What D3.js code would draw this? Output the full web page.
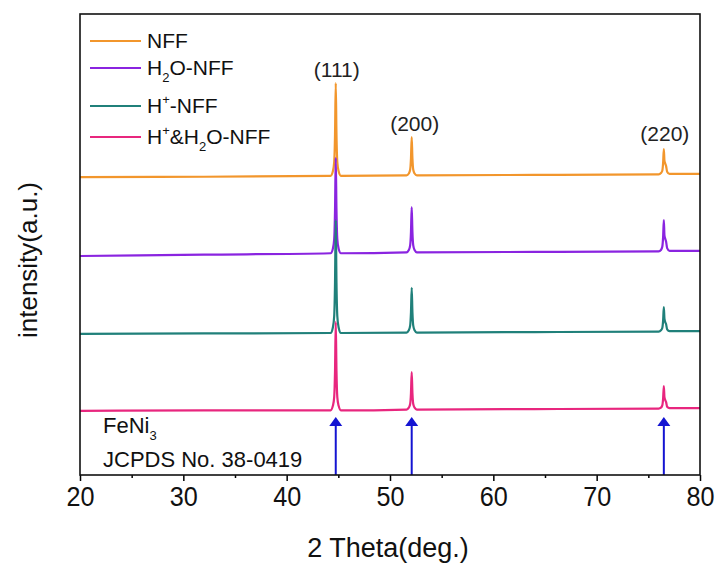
<!DOCTYPE html>
<html>
<head>
<meta charset="utf-8">
<script src="https://cdn.jsdelivr.net/npm/d3@7/dist/d3.min.js"></script>
<style>
  html, body { margin: 0; padding: 0; background: #fff; }
  svg { display: block; font-family: "Liberation Sans", Arial, sans-serif; }
</style>
</head>
<body>
<svg id="chart" width="719" height="566"></svg>
<script>
// 2θ axis ticks
const majorTicks = [20, 30, 40, 50, 60, 70, 80];
const minorTicks = [25, 35, 45, 55, 65, 75];

// Sample names, colours and vertical stacking offsets
const seriesNames = ["NFF", "H2O-NFF", "H+-NFF", "H+&H2O-NFF"];
const seriesColors = ["#f2962c", "#8a24e0", "#20807a", "#e8267e"];
const seriesOffsets = [60, 43, 26, 9];

// Diffraction patterns: [2θ (deg), intensity (a.u.)]
const nffPattern = [
  [20, 4.6], [32, 4.7], [44.25, 4.9], [44.47, 5.9], [44.6, 7.9], [44.68, 13.9], [44.75, 25.0],
  [44.82, 13.9], [44.9, 7.9], [45.03, 5.9], [45.25, 4.9], [51.6, 5.0], [51.82, 5.4], [51.95, 6.2],
  [52.03, 8.7], [52.1, 13.3], [52.17, 8.7], [52.25, 6.2], [52.38, 5.4], [52.6, 5.0], [64, 5.1],
  [76.0, 5.2], [76.22, 5.5], [76.35, 6.0], [76.43, 7.7], [76.5, 10.7], [76.56, 8.2], [76.63, 7.6],
  [76.72, 7.0], [76.82, 5.8], [77.05, 5.3], [80, 5.3]
];
const h2oPattern = [
  [20, 4.5], [32, 4.8], [44.25, 5.1], [44.47, 6.1], [44.6, 8.2], [44.68, 14.4], [44.75, 25.8],
  [44.82, 14.4], [44.9, 8.2], [45.03, 6.1], [45.25, 5.1], [51.6, 5.3], [51.82, 5.8], [51.95, 6.8],
  [52.03, 9.7], [52.1, 15.1], [52.17, 9.7], [52.25, 6.8], [52.38, 5.8], [52.6, 5.3], [64, 5.4],
  [76.0, 5.5], [76.22, 5.8], [76.35, 6.5], [76.43, 8.6], [76.5, 12.3], [76.56, 9.0], [76.63, 8.3],
  [76.72, 7.6], [76.82, 6.2], [77.05, 5.6], [80, 5.6]
];
const hPattern = [
  [20, 4.6], [32, 4.7], [44.25, 4.8], [44.47, 6.0], [44.6, 8.5], [44.68, 15.8], [44.75, 29.3],
  [44.82, 15.8], [44.9, 8.5], [45.03, 6.0], [45.25, 4.8], [51.6, 4.9], [51.82, 5.4], [51.95, 6.4],
  [52.03, 9.3], [52.1, 14.6], [52.17, 9.3], [52.25, 6.4], [52.38, 5.4], [52.6, 4.9], [64, 5.0],
  [76.0, 5.1], [76.22, 5.4], [76.35, 5.9], [76.43, 7.5], [76.5, 10.4], [76.56, 7.9], [76.63, 7.2],
  [76.72, 6.7], [76.82, 5.6], [77.05, 5.2], [80, 5.2]
];
const hH2oPattern = [
  [20, 4.9], [32, 5.0], [44.25, 5.0], [44.47, 6.0], [44.6, 7.9], [44.68, 13.6], [44.75, 24.2],
  [44.82, 13.6], [44.9, 7.9], [45.03, 6.0], [45.25, 5.0], [51.6, 5.2], [51.82, 5.6], [51.95, 6.4],
  [52.03, 8.8], [52.1, 13.3], [52.17, 8.8], [52.25, 6.4], [52.38, 5.6], [52.6, 5.2], [64, 5.3],
  [76.0, 5.4], [76.22, 5.6], [76.35, 6.1], [76.43, 7.6], [76.5, 10.3], [76.56, 7.9], [76.63, 7.3],
  [76.72, 6.8], [76.82, 5.8], [77.05, 5.5], [80, 5.5]
];
const patterns = [nffPattern, h2oPattern, hPattern, hH2oPattern];

// Miller indices and their peak positions
const hklLabels = ["(111)", "(200)", "(220)"];
const hklPeaks = [44.75, 52.1, 76.5];
const hklPeakTops = [25.0, 13.3, 10.7];

// FeNi3 reference (JCPDS No. 38-0419) line positions
const refPeaks = [44.75, 52.1, 76.5];
const refArrowTop = 12.6;

const svg = d3.select("#chart");
const margin = { left: 80, right: 19, top: 14, bottom: 91 };
const W = 719, H = 566;
const x0 = margin.left, x1 = W - margin.right, y0 = H - margin.bottom, y1 = margin.top;

const x = d3.scaleLinear().domain([20, 80]).range([x0, x1]);
const y = d3.scaleLinear().domain([0, 100]).range([y0, y1]);

// Patterns, drawn from the top trace down so lower ones overlay
const line = d3.line()
  .x(d => x(d[0]))
  .curve(d3.curveMonotoneX);

patterns.forEach((p, i) => {
  svg.append("path")
    .datum(p)
    .attr("fill", "none")
    .attr("stroke", seriesColors[i])
    .attr("stroke-width", 2.2)
    .attr("stroke-linejoin", "round")
    .attr("d", line.y(d => y(d[1] + seriesOffsets[i])));
});

// Reference arrows
const arrowG = svg.append("g");
refPeaks.forEach(p => {
  const px = x(p), tip = y(refArrowTop), base = y(0);
  arrowG.append("line")
    .attr("x1", px).attr("x2", px)
    .attr("y1", base).attr("y2", tip + 6)
    .attr("stroke", "#1414d2").attr("stroke-width", 2);
  arrowG.append("path")
    .attr("d", `M${px},${tip} L${px - 6.5},${tip + 9} L${px + 6.5},${tip + 9} Z`)
    .attr("fill", "#1414d2");
});

// Peak index labels above the top trace
hklLabels.forEach((t, i) => {
  svg.append("text")
    .attr("x", x(hklPeaks[i]) + (i === 1 ? 3 : 1))
    .attr("y", y(hklPeakTops[i] + seriesOffsets[0]) - (i === 2 ? 8 : 6))
    .attr("text-anchor", "middle")
    .attr("font-size", 21)
    .attr("fill", "#222")
    .text(t);
});

// Axes
const axisMajor = d3.axisBottom(x).tickValues(majorTicks).tickSize(6).tickSizeOuter(0).tickPadding(5);
const axisMinor = d3.axisBottom(x).tickValues(minorTicks).tickSize(3).tickSizeOuter(0).tickFormat("");

const gx = svg.append("g").attr("transform", `translate(0,${y0})`).call(axisMajor);
gx.select(".domain").remove();
gx.selectAll(".tick line").attr("stroke", "#000").attr("stroke-width", 1.5);
gx.selectAll(".tick text")
  .attr("font-size", 28)
  .attr("transform", "scale(0.9,1)")
  .attr("font-family", "'Liberation Sans', Arial, sans-serif")
  .attr("fill", "#111");

const gm = svg.append("g").attr("transform", `translate(0,${y0})`).call(axisMinor);
gm.select(".domain").remove();
gm.selectAll(".tick line").attr("stroke", "#000").attr("stroke-width", 1.5);

// Plot frame
svg.append("rect")
  .attr("x", x0).attr("y", y1)
  .attr("width", x1 - x0).attr("height", y0 - y1)
  .attr("fill", "none").attr("stroke", "#111").attr("stroke-width", 1.6);

// Axis titles
svg.append("text")
  .attr("x", (x0 + x1) / 2 - 2).attr("y", 557)
  .attr("text-anchor", "middle")
  .attr("font-size", 27)
  .attr("fill", "#111")
  .text("2 Theta(deg.)");

svg.append("text")
  .attr("transform", `translate(37,260) rotate(-90)`)
  .attr("text-anchor", "middle")
  .attr("font-size", 26)
  .attr("fill", "#111")
  .text("intensity(a.u.)");

// Legend
const legendRows = [
  { y: 41, parts: [["NFF", 0]] },
  { y: 68, parts: [["H", 0], ["2", 1], ["O-NFF", 0]] },
  { y: 106, parts: [["H", 0], ["+", -1], ["-NFF", 0]] },
  { y: 137, parts: [["H", 0], ["+", -1], ["&H", 0], ["2", 1], ["O-NFF", 0]] }
];
legendRows.forEach((row, i) => {
  svg.append("line")
    .attr("x1", 90).attr("x2", 141)
    .attr("y1", row.y).attr("y2", row.y)
    .attr("stroke", seriesColors[i]).attr("stroke-width", 2.2);
  const t = svg.append("text")
    .attr("x", 147).attr("y", row.y + 7)
    .attr("font-size", 21)
    .attr("fill", "#111");
  // baseline shifts for sub/superscript runs
  let cur = 0;
  row.parts.forEach(([s, shift]) => {
    const target = shift > 0 ? 7 : shift < 0 ? -9 : 0;
    const ts = t.append("tspan").text(s).attr("dy", target - cur);
    if (shift !== 0) ts.attr("font-size", 13);
    cur = target;
  });
});

// Reference card text
const refText = svg.append("text").attr("x", 103).attr("y", 433).attr("font-size", 22).attr("fill", "#111");
refText.append("tspan").text("FeNi");
refText.append("tspan").attr("font-size", 13).attr("dy", 7).text("3");
svg.append("text").attr("x", 103).attr("y", 467).attr("font-size", 22).attr("fill", "#111")
  .text("JCPDS No. 38-0419");
</script>
</body>
</html>
